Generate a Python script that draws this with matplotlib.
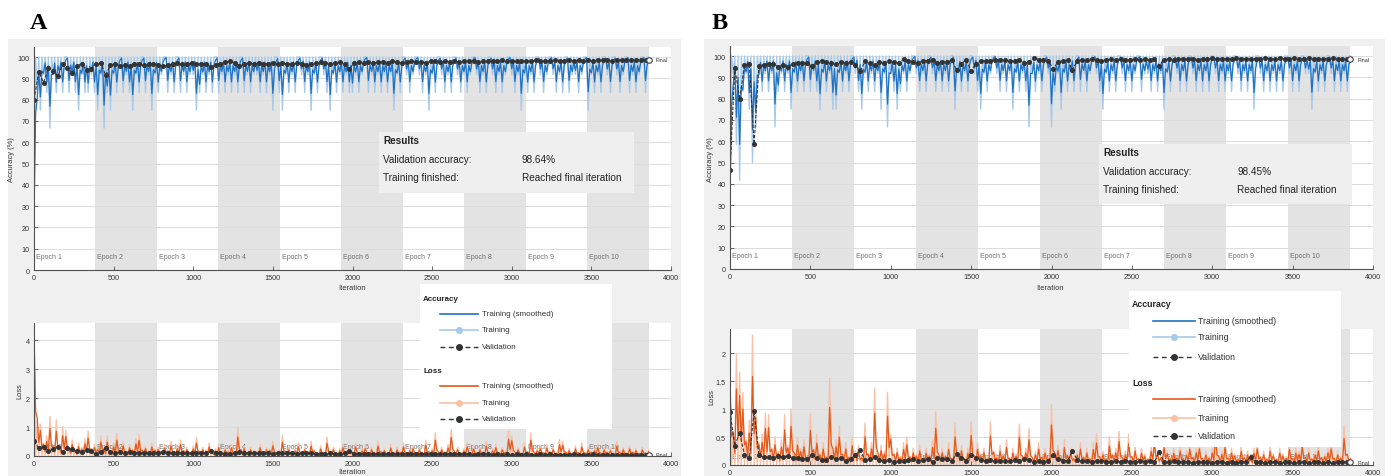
import numpy as np
import pandas as pd
import matplotlib
matplotlib.use("Agg")
import matplotlib.pyplot as plt
from matplotlib.patches import Rectangle

# ---------------- data ----------------
ITER_PER_EPOCH = 386
N_EPOCHS = 10
FINAL_ITER = 3860
TRAIN_STEP = 20
VAL_STEP = 30
x_ticks = [0, 500, 1000, 1500, 2000, 2500, 3000, 3500, 4000]
epoch_labels = [f"Epoch {k}" for k in range(1, N_EPOCHS + 1)]

# training accuracy: lowest mini-batch value in each 20-iteration step,
# as misclassified images out of 12 (the best value in each step is 100 %)
acc_err_A = ("9231241212" "0212312212" "3142312021" "2312021312" "1021202121"
             "1321212021" "2121202121" "1212130231" "2120121312" "0123121212"
             "2121021212" "1213120121" "0121312012" "1201212101" "2120121210"
             "1213121201" "2101212021" "1210312120" "1201210212" "1020")
acc_err_B = ("8157213641" "2121421213" "1212021231" "2133121201" "2312121314"
             "1232121012" "1201212120" "3121201231" "2101212131" "2124121201"
             "4213121202" "1210123121" "2012121021" "1212131201" "2120121212"
             "0121212012" "1213012121" "2120121201" "1312120121" "2120")
ACC_BEST = 100.0

# training loss: highest mini-batch value in each 20-iteration step (x 0.01)
loss_A = [440, 120, 110, 45, 70, 137, 35, 125, 30, 102,
          90, 25, 55, 20, 45, 30, 60, 87, 25, 40,
          30, 70, 22, 70, 18, 45, 78, 20, 50, 15,
          40, 25, 60, 75, 20, 35, 15, 45, 25, 30,
          12, 40, 20, 50, 15, 35, 55, 20, 30, 10,
          35, 64, 15, 30, 20, 45, 12, 25, 40, 10,
          30, 18, 40, 15, 98, 20, 35, 10, 30, 20,
          15, 40, 10, 30, 25, 50, 12, 20, 70, 15,
          30, 10, 25, 45, 12, 30, 15, 50, 20, 10,
          35, 12, 65, 15, 30, 10, 25, 40, 12, 30,
          15, 45, 10, 25, 35, 12, 30, 10, 50, 15,
          25, 10, 40, 12, 30, 15, 45, 10, 25, 35,
          12, 30, 10, 55, 15, 25, 80, 10, 30, 15,
          40, 93, 12, 30, 10, 25, 45, 12, 35, 10,
          30, 15, 50, 10, 25, 40, 12, 30, 15, 87,
          70, 12, 30, 10, 45, 15, 80, 10, 25, 35,
          12, 40, 15, 30, 10, 57, 50, 12, 25, 10,
          35, 12, 45, 10, 30, 15, 25, 40, 10, 30,
          15, 25, 10, 50, 12, 30, 10, 35, 15, 25,
          10, 30, 12, 20]
loss_B = [145, 60, 198, 165, 130, 45, 80, 232, 100, 40,
          55, 93, 90, 30, 50, 25, 45, 90, 35, 100,
          20, 50, 30, 45, 15, 92, 30, 55, 20, 40,
          15, 155, 25, 45, 70, 20, 40, 15, 50, 25,
          35, 15, 75, 20, 40, 137, 15, 35, 25, 130,
          55, 20, 30, 15, 40, 50, 15, 30, 20, 35,
          12, 30, 20, 45, 95, 15, 30, 20, 40, 12,
          75, 20, 35, 12, 30, 77, 15, 40, 20, 30,
          12, 77, 25, 15, 35, 20, 45, 12, 30, 20,
          73, 15, 30, 65, 12, 25, 40, 15, 30, 12,
          108, 20, 35, 12, 45, 20, 30, 12, 25, 40,
          15, 30, 12, 40, 55, 15, 25, 12, 50, 20,
          30, 60, 12, 25, 55, 15, 35, 12, 30, 20,
          12, 35, 55, 20, 15, 45, 25, 12, 30, 15,
          35, 12, 25, 40, 15, 30, 40, 12, 25, 15,
          30, 70, 15, 25, 45, 12, 30, 20, 12, 35,
          15, 25, 12, 30, 40, 15, 25, 12, 35, 20,
          12, 30, 20, 15, 40, 12, 30, 25, 45, 15,
          30, 12, 25, 35, 15, 20, 30, 40, 12, 25,
          15, 70, 20, 12]
LOSS_LOW = 0.01

# validation every 30 iterations (0 ... 3840)
val_acc_A = [80, 93, 88, 95, 93.5, 91, 96.5, 95, 92.5, 96, 96.7, 94, 94.3, 96.9, 97, 91.5, 96.2,
             96.5, 96, 96.2, 95.8, 96.5, 96.8, 96.2, 96.5, 96.8, 96.4, 95.7, 96.2, 96.7, 97, 96.5, 96.8, 97.2,
             96.5, 96.9, 96.6, 95.4, 96.2, 96.8, 97.6, 97.9, 97.3, 96, 96.5, 97, 96.8, 97.1, 96.6, 96.9, 97.2,
             96.7, 97, 96.8, 96.5, 97.1, 96.8, 96.4, 96.7, 97, 97.6, 97.2, 96.9, 97.3, 97.5, 96.8, 94.3, 97.2,
             97.5, 97.3, 97.7, 97.2, 97.6, 97.8, 97.4, 97.9, 97.5, 97.3, 97.8, 98, 97.6, 97.7, 97.4, 97.9, 98.1,
             97.6, 97.9, 97.8, 98.2, 97.7, 98, 97.9, 98.3, 97.8, 98.1, 97.9, 98.2, 98, 98.4, 97.9, 98.2, 98.1,
             98.3, 97.9, 98.2, 98.4, 98, 98.3, 98.1, 98.5, 98.2, 98.3, 98.6, 98.1, 98.4, 98.3, 98.5, 98.2, 98.6,
             98.4, 98.5, 98.3, 98.6, 98.4, 98.7, 98.5, 98.6, 98.4, 98.6]
val_loss_A = [0.51, 0.27, 0.32, 0.18, 0.23, 0.32, 0.15, 0.29, 0.23, 0.18, 0.15, 0.2, 0.16, 0.07, 0.13, 0.27, 0.15,
              0.12, 0.13, 0.12, 0.14, 0.11, 0.1, 0.12, 0.11, 0.1, 0.12, 0.15, 0.12, 0.1, 0.09, 0.11, 0.1, 0.09,
              0.11, 0.1, 0.1, 0.17, 0.12, 0.1, 0.08, 0.07, 0.09, 0.13, 0.11, 0.09, 0.1, 0.09, 0.1, 0.09, 0.08,
              0.1, 0.09, 0.09, 0.11, 0.08, 0.09, 0.1, 0.09, 0.08, 0.07, 0.08, 0.09, 0.08, 0.07, 0.09, 0.18, 0.08,
              0.08, 0.08, 0.07, 0.08, 0.07, 0.07, 0.08, 0.06, 0.07, 0.08, 0.07, 0.06, 0.07, 0.07, 0.08, 0.06, 0.06,
              0.07, 0.06, 0.07, 0.06, 0.07, 0.06, 0.06, 0.05, 0.07, 0.06, 0.06, 0.05, 0.06, 0.05, 0.06, 0.05, 0.06,
              0.05, 0.06, 0.05, 0.05, 0.06, 0.05, 0.06, 0.05, 0.05, 0.05, 0.04, 0.06, 0.05, 0.05, 0.05, 0.06, 0.04,
              0.05, 0.05, 0.05, 0.04, 0.05, 0.04, 0.05, 0.04, 0.05, 0.04]
val_acc_B = [46.5, 94.5, 79.7, 95.8, 96.4, 58.7, 95.2, 96, 96.4, 96.4, 94.8, 96, 94.8, 96.4, 96.8, 96.8, 96.6,
             95.2, 97, 97.8, 97, 96.8, 96.4, 97, 96.8, 97.2, 96, 92.8, 97.5, 96.8, 96, 97.2, 96.8, 97.8,
             97, 96.8, 98.5, 97.5, 97, 96.8, 97.8, 97.8, 98.2, 96.8, 97, 97, 98.2, 93.2, 96.4, 98.2, 93,
             96.4, 97.8, 97.8, 97.8, 98.2, 98.2, 98.2, 97.8, 97.8, 98.2, 96.8, 97, 99.3, 98.2, 98.2, 97.8, 94,
             97.2, 97.8, 98, 93.5, 97.8, 98.2, 97.9, 98.4, 98, 97.6, 98.3, 98.5, 98.1, 98.4, 97.9, 98.3, 98.6,
             98.2, 98.4, 98, 98.5, 95.5, 98.3, 98.6, 98.2, 98.7, 98.4, 98.6, 98.8, 98.3, 98.7, 98.5, 98.9, 98.4,
             98.6, 98.8, 98.5, 98.9, 98.6, 98.7, 98.4, 98.8, 98.6, 99, 98.7, 98.5, 98.9, 98.7, 98.6, 99, 98.8,
             98.6, 98.9, 98.7, 98.5, 98.8, 98.6, 98.9, 98.7, 98.5, 98.6]
val_loss_B = [0.95, 0.34, 0.58, 0.17, 0.12, 0.96, 0.18, 0.14, 0.14, 0.13, 0.16, 0.15, 0.16, 0.13, 0.13, 0.11, 0.1,
              0.18, 0.13, 0.09, 0.09, 0.14, 0.1, 0.13, 0.07, 0.11, 0.18, 0.26, 0.09, 0.11, 0.14, 0.09, 0.07, 0.09,
              0.06, 0.07, 0.07, 0.09, 0.1, 0.08, 0.09, 0.11, 0.06, 0.12, 0.1, 0.1, 0.07, 0.2, 0.13, 0.08, 0.18,
              0.12, 0.09, 0.08, 0.09, 0.07, 0.08, 0.07, 0.08, 0.09, 0.07, 0.1, 0.09, 0.05, 0.07, 0.06, 0.08, 0.17,
              0.1, 0.08, 0.07, 0.25, 0.09, 0.07, 0.08, 0.06, 0.07, 0.08, 0.06, 0.05, 0.07, 0.06, 0.08, 0.06, 0.05,
              0.07, 0.06, 0.07, 0.05, 0.23, 0.06, 0.05, 0.07, 0.05, 0.06, 0.05, 0.04, 0.06, 0.05, 0.06, 0.04, 0.06,
              0.05, 0.04, 0.06, 0.04, 0.05, 0.06, 0.15, 0.05, 0.05, 0.04, 0.05, 0.06, 0.04, 0.05, 0.05, 0.04, 0.05,
              0.05, 0.04, 0.05, 0.06, 0.04, 0.05, 0.04, 0.05, 0.06, 0.05]
final_acc = {"A": 98.64, "B": 98.45}
final_loss = {"A": 0.05, "B": 0.05}
results_text = {"A": "98.64%", "B": "98.45%"}

# ---------------- style ----------------
W, H = 1391, 477
C_ACC = "#1f72c4"
C_ACC_RAW = "#a7c9ea"
C_LOSS = "#e45a1b"
C_LOSS_RAW = "#f9c0a6"
C_VAL = "#333333"
C_BAND = "#e3e3e3"
C_PANEL = "#f0f0f0"
C_TXT = "#333333"

plt.rcParams['font.family'] = ['Liberation Sans', 'DejaVu Sans']
fig = plt.figure(figsize=(W / 100, H / 100), dpi=100)
fig.patch.set_facecolor("white")


def rect(x0, y0, x1, y1):
    return [x0 / W, 1 - y1 / H, (x1 - x0) / W, (y1 - y0) / H]


bg = fig.add_axes([0, 0, 1, 1], zorder=-5)
bg.set_xlim(0, W); bg.set_ylim(H, 0); bg.axis("off")
ov = fig.add_axes([0, 0, 1, 1], zorder=10)
ov.set_xlim(0, W); ov.set_ylim(H, 0); ov.axis("off"); ov.patch.set_alpha(0)

train_iters = np.arange(0, FINAL_ITER + 1, TRAIN_STEP)
val_iters = np.arange(0, len(val_acc_A) * VAL_STEP, VAL_STEP)


def step_series(extreme, other):
    """each 20-iteration step: its extreme value, then the opposite bound half a step later"""
    x = np.column_stack([train_iters, train_iters + TRAIN_STEP / 2]).ravel()
    y = np.column_stack([extreme, np.full(len(extreme), other)]).ravel()
    keep = x <= FINAL_ITER
    return x[keep], y[keep]


def smooth(v):
    return pd.Series(v).ewm(alpha=0.65, adjust=False).mean().values


def setup(ax, ylim, yticks, yticklabels, epoch_y=0.06):
    ax.set_facecolor("white")
    ax.set_xlim(0, 4000)
    ax.set_ylim(*ylim)
    for k in range(N_EPOCHS):
        if k % 2 == 1:
            ax.axvspan(k * ITER_PER_EPOCH, (k + 1) * ITER_PER_EPOCH, color=C_BAND, lw=0, zorder=0.2)
        ax.text(k * ITER_PER_EPOCH + 12, epoch_y, epoch_labels[k], transform=ax.get_xaxis_transform(),
                fontsize=5, color="#707070", va="center", ha="left", zorder=0.8)
    for y in yticks[1:]:
        ax.axhline(y, color="#dcdcdc", lw=0.7, zorder=0.6)
    ax.set_xticks(x_ticks)
    ax.set_yticks(yticks)
    ax.set_yticklabels(yticklabels)
    for s in ["top", "right"]:
        ax.spines[s].set_visible(False)
    for s in ["left", "bottom"]:
        ax.spines[s].set_color("#505050")
        ax.spines[s].set_linewidth(0.8)
        ax.spines[s].set_zorder(5)
    ax.tick_params(direction="in", length=3, width=0.6, labelsize=5.2, color="#505050",
                   labelcolor=C_TXT, pad=3)


def draw_series(ax, x, raw, c_raw, c_sm, val, fin):
    ax.plot(x, raw, color=c_raw, lw=1.0, zorder=2)
    ax.plot(x, smooth(raw), color=c_sm, lw=0.9, zorder=3)
    vx = np.append(val_iters, FINAL_ITER)
    vy = np.append(val, fin)
    ax.plot(vx, vy, ls=(0, (3, 1.5)), color=C_VAL, lw=0.8, marker="o", ms=2.6, zorder=4)
    ax.plot([FINAL_ITER], [fin], "o", mfc="white", mec="#444444", ms=4, mew=0.8, zorder=5)
    ax.text(FINAL_ITER + 45, fin, "Final", fontsize=4, color=C_TXT, va="center", zorder=5)


def draw_acc(ax, err_str, val, fin):
    low = np.array([100.0 * (12 - int(c)) / 12 for c in err_str])
    x, y = step_series(low, ACC_BEST)
    draw_series(ax, x, y, C_ACC_RAW, C_ACC, val, fin)


def draw_loss(ax, high100, val, fin):
    high = np.array(high100) / 100.0
    x, y = step_series(high, LOSS_LOW)
    draw_series(ax, x, y, C_LOSS_RAW, C_LOSS, val, fin)


acc_ticks = list(range(0, 101, 10))

# panel backgrounds and letters
bg.add_patch(Rectangle((8, 40), 673, 437, fc=C_PANEL, ec="none"))
bg.add_patch(Rectangle((704, 40), 681, 437, fc=C_PANEL, ec="none"))
bg.text(30, 29, "A", fontsize=17.5, fontweight="bold", family="Liberation Serif", va="baseline")
bg.text(712, 29, "B", fontsize=17.5, fontweight="bold", family="Liberation Serif", va="baseline")

# ----- panel A -----
axA1 = fig.add_axes(rect(34, 48, 671, 271))
setup(axA1, (0, 104.7), acc_ticks, [str(t) for t in acc_ticks])
draw_acc(axA1, acc_err_A, val_acc_A, final_acc["A"])
axA2 = fig.add_axes(rect(34, 324, 671, 457))
setup(axA2, (0, 4.6), [0, 1, 2, 3, 4], ["0", "1", "2", "3", "4"], epoch_y=0.07)
draw_loss(axA2, loss_A, val_loss_A, final_loss["A"])

# ----- panel B -----
axB1 = fig.add_axes(rect(730, 47, 1373, 270))
setup(axB1, (0, 104.7), acc_ticks, [str(t) for t in acc_ticks])
draw_acc(axB1, acc_err_B, val_acc_B, final_acc["B"])
axB2 = fig.add_axes(rect(730, 330, 1373, 466))
setup(axB2, (0, 2.43), [0, 0.5, 1, 1.5, 2], ["0", "0.5", "1", "1.5", "2"], epoch_y=0.06)
draw_loss(axB2, loss_B, val_loss_B, final_loss["B"])

# axis labels
lab = dict(fontsize=5.4, color=C_TXT, ha="center", va="center")
ov.text(12, 160, "Accuracy (%)", rotation=90, **lab)
ov.text(352, 289, "Iteration", **lab)
ov.text(20, 391, "Loss", rotation=90, **lab)
ov.text(352, 473, "Iteration", **lab)
ov.text(710, 160, "Accuracy (%)", rotation=90, **lab)
ov.text(1050, 289, "Iteration", **lab)
ov.text(712, 397, "Loss", rotation=90, **lab)


# results boxes
def results(x0, y0, x1, y1, xv, val_txt, rows):
    ov.add_patch(Rectangle((x0, y0), x1 - x0, y1 - y0, fc="#efefef", ec="none"))
    ov.text(x0 + 4, rows[0], "Results", fontsize=7.2, fontweight="bold", color="#222222", va="center")
    ov.text(x0 + 4, rows[1], "Validation accuracy:", fontsize=7.2, color="#222222", va="center")
    ov.text(xv, rows[1], val_txt, fontsize=7.2, color="#222222", va="center")
    ov.text(x0 + 4, rows[2], "Training finished:", fontsize=7.2, color="#222222", va="center")
    ov.text(xv, rows[2], "Reached final iteration", fontsize=7.2, color="#222222", va="center")


results(379, 133, 634, 194, 522, results_text["A"], [141, 160, 178])
results(1099, 145, 1352, 205, 1237, results_text["B"], [153, 172, 190])


# legends
def legend(x0, y0, x1, y1, xl0, xl1, xt, ys, fs):
    ov.add_patch(Rectangle((x0, y0), x1 - x0, y1 - y0, fc="white", ec="none"))
    xm = (xl0 + xl1) / 2
    ov.text(x0 + 3, ys[0], "Accuracy", fontsize=fs, fontweight="bold", color="#222222", va="center")
    ov.text(x0 + 3, ys[4], "Loss", fontsize=fs, fontweight="bold", color="#222222", va="center")
    for base, cs, cr in [(1, C_ACC, C_ACC_RAW), (5, C_LOSS, C_LOSS_RAW)]:
        ov.plot([xl0, xl1], [ys[base]] * 2, color=cs, lw=1.2)
        ov.text(xt, ys[base], "Training (smoothed)", fontsize=fs, color=C_TXT, va="center")
        ov.plot([xl0, xl1], [ys[base + 1]] * 2, color=cr, lw=1.2)
        ov.plot([xm], [ys[base + 1]], "o", color=cr, ms=4)
        ov.text(xt, ys[base + 1], "Training", fontsize=fs, color=C_TXT, va="center")
        ov.plot([xl0, xl1], [ys[base + 2]] * 2, color=C_VAL, lw=1.0, ls=(0, (3.5, 2.5)))
        ov.plot([xm], [ys[base + 2]], "o", color=C_VAL, ms=4)
        ov.text(xt, ys[base + 2], "Validation", fontsize=fs, color=C_TXT, va="center")


legend(420, 285, 612, 430, 440, 478, 482, [300, 315, 331, 348, 372, 387, 404, 420], 5.8)
legend(1129, 292, 1341, 448, 1153, 1195, 1198, [305, 322, 338, 358, 384, 400, 419, 437], 6.3)

fig.savefig("out.png", dpi=100)
